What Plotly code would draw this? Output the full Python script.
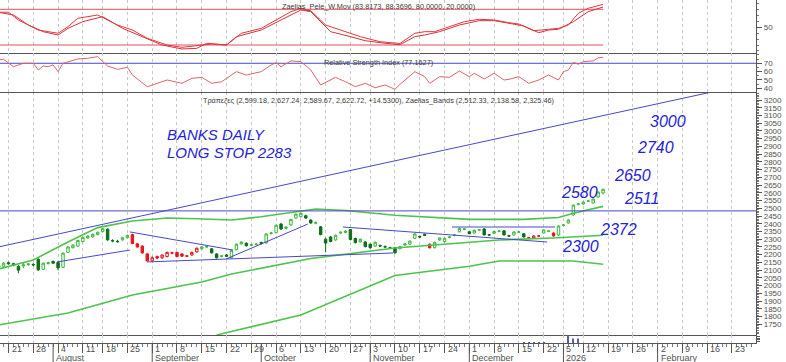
import pandas as pd
import plotly.graph_objects as go

# ---------------- calendar (trading days, Athens exchange) ----------------
HOLIDAYS = ["2025-08-15", "2025-10-28", "2025-12-24", "2025-12-25", "2025-12-26",
            "2025-12-31", "2026-01-01", "2026-01-02", "2026-01-06"]
DAYS = [d for d in pd.bdate_range("2025-07-17", "2026-03-06")
        if d.strftime("%Y-%m-%d") not in HOLIDAYS]
X_RANGE = [0.28, 152.86]
MONTH_NAMES = {8: "August", 9: "September", 10: "October", 11: "November",
               12: "December", 1: "2026", 2: "February", 3: "March"}

# ---------------- price data (Τράπεζες, daily) ----------------
OPEN = [2115, 2125, 2148, 2142, 2125, 2128, 2136, 2137, 2170, 2105,
        2143, 2156, 2150, 2118, 2215, 2245, 2255, 2285, 2308, 2315,
        2330, 2350, 2365, 2291, 2287, 2296, 2310, 2330, 2270, 2255,
        2205, 2160, 2188, 2180, 2188, 2210, 2215, 2205, 2190, 2198,
        2218, 2238, 2250, 2238, 2205, 2190, 2198, 2180, 2232, 2270,
        2274, 2261, 2266, 2279, 2276, 2338, 2342, 2398, 2370, 2392,
        2437, 2446, 2452, 2424, 2404, 2380, 2300, 2315, 2295, 2340,
        2343, 2362, 2305, 2283, 2282, 2268, 2256, 2258, 2252, 2244,
        2245, 2240, 2262, 2268, 2306, 2318, 2332, 2268, 2245, 2295,
        2285, 2312, 2325, 2348, 2365, 2348, 2340, 2358, 2366, 2328,
        2338, 2352, 2354, 2322, 2327, 2346, 2335, 2309, 2308, 2320,
        2340, 2352, 2340, 2327, 2390, 2405, 2457, 2526, 2528, 2546,
        2534, 2573, 2599.18]
HIGH = [2140, 2152, 2155, 2148, 2132, 2150, 2146, 2145, 2176, 2150,
        2155, 2162, 2156, 2215, 2255, 2268, 2296, 2316, 2325, 2336,
        2350, 2372, 2370, 2300, 2296, 2315, 2330, 2335, 2276, 2262,
        2210, 2190, 2195, 2202, 2220, 2220, 2220, 2210, 2198, 2220,
        2246, 2256, 2258, 2242, 2210, 2198, 2204, 2232, 2272, 2286,
        2280, 2270, 2274, 2284, 2338, 2348, 2395, 2405, 2384, 2432,
        2466, 2472, 2458, 2428, 2415, 2385, 2310, 2320, 2330, 2350,
        2358, 2366, 2310, 2305, 2288, 2272, 2285, 2266, 2260, 2252,
        2250, 2256, 2276, 2292, 2338, 2324, 2336, 2272, 2285, 2312,
        2310, 2320, 2332, 2375, 2372, 2352, 2362, 2366, 2372, 2334,
        2354, 2358, 2358, 2328, 2350, 2352, 2340, 2315, 2325, 2326,
        2364, 2358, 2344, 2390, 2398, 2428, 2525, 2534, 2544, 2552,
        2564, 2610, 2627.24]
LOW = [2108, 2118, 2135, 2125, 2080, 2112, 2128, 2126, 2095, 2100,
       2135, 2140, 2098, 2115, 2210, 2240, 2250, 2280, 2302, 2310,
       2325, 2345, 2290, 2280, 2278, 2290, 2305, 2268, 2245, 2205,
       2155, 2152, 2170, 2172, 2182, 2202, 2182, 2185, 2184, 2192,
       2212, 2232, 2244, 2208, 2175, 2182, 2184, 2175, 2228, 2265,
       2252, 2255, 2260, 2266, 2272, 2330, 2338, 2360, 2364, 2388,
       2432, 2440, 2432, 2400, 2396, 2325, 2215, 2280, 2290, 2334,
       2338, 2292, 2272, 2278, 2248, 2240, 2250, 2250, 2244, 2236,
       2206, 2234, 2258, 2262, 2302, 2308, 2320, 2240, 2240, 2290,
       2280, 2306, 2318, 2344, 2358, 2332, 2335, 2352, 2324, 2320,
       2334, 2346, 2324, 2314, 2322, 2340, 2310, 2300, 2302, 2314,
       2336, 2346, 2316, 2322, 2384, 2400, 2452, 2518, 2522, 2540,
       2530, 2568, 2589.67]
CLOSE = [2132, 2145, 2142, 2130, 2100, 2134, 2140, 2134, 2102, 2145,
         2148, 2145, 2115, 2210, 2250, 2262, 2292, 2312, 2320, 2332,
         2345, 2368, 2296, 2289, 2284, 2310, 2325, 2272, 2250, 2212,
         2160, 2180, 2178, 2198, 2215, 2212, 2188, 2190, 2192, 2215,
         2242, 2250, 2251, 2212, 2180, 2192, 2190, 2228, 2268, 2282,
         2258, 2263, 2268, 2272, 2334, 2340, 2390, 2366, 2378, 2428,
         2462, 2468, 2437, 2405, 2406, 2330, 2275, 2285, 2326, 2345,
         2352, 2298, 2278, 2300, 2252, 2245, 2280, 2256, 2250, 2243,
         2212, 2252, 2270, 2288, 2334, 2314, 2325, 2245, 2280, 2308,
         2306, 2314, 2327, 2370, 2366, 2336, 2358, 2361, 2328, 2327,
         2350, 2353, 2328, 2321, 2347, 2347, 2315, 2308, 2321, 2321,
         2360, 2353, 2321, 2385, 2392, 2424, 2521, 2528, 2540, 2547,
         2560, 2605, 2622.72]
# candle colour flag per day: g = green, r = red
CANDLE_FLAG = ("ggggggggggggggggggggggggggg"
               "rrrrrrrrrrrrrr"
               "gggggggggggggggggggggggggggggggggggggggggggggg"
               "r"
               "ggggggggggggggggggg"
               "rrr"
               "gg"
               "r"
               "gggggggggg")

# volume strip (day index, value)
VOL_X = [106, 107, 108, 109, 110, 115, 116, 117]
VOL = [0.8, 0.8, 0.8, 0.8, 0.8, 10, 6, 6]

# ---------------- Zaelias_Bands (day index, value) ----------------
BAND_UP_X = [0, 7, 14, 20, 27, 34, 40, 47, 53, 59, 64, 70, 80, 95, 106, 113, 116, 122]
BAND_UP = [2107, 2166, 2282, 2375, 2418, 2437, 2432, 2424, 2445, 2474, 2495, 2486,
           2455, 2428, 2428, 2440, 2468, 2512.33]
BAND_MID_X = [0, 14, 27, 41, 47, 63, 80, 95, 101, 112, 122]
BAND_MID = [1745, 1823, 1939, 2023, 2075, 2175, 2243, 2282, 2295, 2308, 2325.46]
BAND_LOW_X = [44, 61, 80, 95, 101, 116, 122]
BAND_LOW = [1681, 1810, 2065, 2125, 2159, 2159, 2138.58]

# ---------------- drawn trend lines (day index pairs, value pairs) ----------------
TREND_X = [[0.28, 143.98], [11.8, 26.5], [26.5, 47.3], [29.95, 79.6],
           [45.9, 62.4], [69.5, 110.7], [91.5, 112.3]]
TREND_Y = [[2252, 3252], [2153, 2230], [2347, 2230], [2153, 2211],
           [2172, 2398], [2379, 2282], [2379, 2379]]
RESIST_LEVEL = 2483

# ---------------- Zaelias_Pele_W.Mov ----------------
WM1_X = [0, 2, 4, 8, 12, 14, 16, 20, 24, 27, 30, 34, 37, 41, 43, 46, 49, 53, 56, 59,
         61, 63, 66, 69, 73, 77, 81, 84, 86, 88, 91, 94, 97, 100, 103, 105, 108, 110,
         113, 115, 117, 119, 122]
WM1 = [75, 75, 62, 45.2, 39.7, 50.8, 64.9, 70.4, 53.6, 45.2, 31.3, 20, 16.1, 20, 21.7,
       20, 39.7, 48, 62, 76, 81.7, 77.6, 53.6, 45.2, 34, 25.5, 22.5, 39.7, 42.4, 42.4,
       50.8, 59.2, 63.2, 62, 57.5, 55.3, 44, 45.2, 48, 53.6, 73.3, 81.7, 88.3696]
WM2_X = [0, 3, 6, 9, 12, 14, 17, 21, 25, 29, 33, 37, 40, 42, 46, 48, 53, 57, 61, 63,
         67, 71, 74, 78, 81, 84, 86, 89, 93, 97, 100, 103, 106, 109, 111, 113, 116,
         119, 122]
WM2 = [75, 70.4, 53.6, 42.4, 36.8, 48, 59.2, 67.6, 48, 34, 20, 13.3, 14.4, 22.9, 20,
       34, 45.2, 62, 78.8, 76, 42.4, 34, 27.2, 22.9, 20.5, 34, 36.8, 42.4, 53.6, 60.9,
       60.9, 56.5, 51.9, 40.7, 45.2, 46.4, 59.2, 76, 83.8173]
WM_LEVELS = [80, 20]

# ---------------- RSI ----------------
RSI_X = [0, 1, 3, 5, 7, 8, 9, 10, 11, 12, 13, 14, 16, 18, 20, 22, 24, 26, 27, 30,
         34, 37, 39, 41, 43, 45, 48, 50, 53, 55, 56, 57, 59, 61, 63, 65, 68, 70, 72, 74,
         76, 78, 80, 81, 84, 86, 87, 89, 91, 93, 95, 96, 98, 100, 102, 103, 105, 107,
         109, 111, 113, 114, 115, 116, 117, 118, 120, 121, 122]
RSI = [74, 74.8, 65.9, 70, 70, 62, 66.7, 65.9, 68, 59.9, 70, 72, 75.2, 76, 78, 66.7,
       62.7, 65.2, 55.9, 41.8, 49.9, 45.9, 51.9, 53.1, 45.9, 47.8, 59.9, 55.9, 59.9, 68,
       70.8, 65.9, 72.8, 72, 62, 43.9, 53.1, 47.8, 41.8, 45.9, 40.6, 43.9, 38.7, 44.6,
       59.9, 53.9, 45.9, 53.9, 53.1, 60.7, 53.9, 58, 51.1, 58, 49.9, 50.7, 53.9, 45.9,
       49.9, 55.9, 49.9, 59.9, 62, 71.2, 68.8, 72, 72.8, 76.5, 77.1627]
RSI_LEVEL = 70

# ---------------- hand-written notes (day index, value, text) ----------------
NOTE_X = [33.6, 33.6, 131.1, 128.4, 123.8, 113.1, 125.8, 121.0, 113.3]
NOTE_Y = [2977, 2861, 3058, 2893, 2709, 2602, 2560, 2366, 2256]
NOTE_TEXT = ["BANKS DAILY", "LONG STOP 2283", "3000", "2740", "2650", "2580",
             "2511", "2372", "2300"]
NOTE_SIZE = [15, 15, 16, 16, 16, 16, 16, 16, 16]

TITLE_TOP = "Zaelias_Pele_W.Mov (83.8173, 88.3696, 80.0000, 20.0000)"
TITLE_RSI = "Relative Strength Index (77.1627)"
TITLE_MAIN = ("Τράπεζες (2,599.18, 2,627.24, 2,589.67, 2,622.72, +14.5300), "
              "Zaelias_Bands (2,512.33, 2,138.58, 2,325.46)")

# ---------------- styles ----------------
FRAME = "#555555"
GRID = "#c8c8c8"
TXT = "#3a3a3a"
FONT = "Liberation Sans, Arial, sans-serif"
G_LIGHT = "#3cb83c"
G_DARK = "#0c6e18"
RED = "#e41818"
BLUE_LINE = "#4848c8"
BAND = "#4cc44c"
PELE = "#e23a3a"
NOTE_BLUE = "#2424d6"

W, H = 786, 362
ML, MR, MT, MB = 0, 30, 0, 19
PH = H - MT - MB  # plot height in px


def py(px):
    """convert a pixel row (from top of figure) to paper y"""
    return (H - MB - px) / PH


n = min(len(OPEN), len(HIGH), len(LOW), len(CLOSE), len(CANDLE_FLAG))
idx = list(range(n))

fig = go.Figure()

# ---- top panel: Zaelias_Pele_W.Mov
for lev in WM_LEVELS:
    fig.add_trace(go.Scatter(x=[0, n - 1], y=[lev, lev], mode="lines", xaxis="x2", yaxis="y2",
                             line=dict(color="#e0505a", width=1), hoverinfo="skip"))
fig.add_trace(go.Scatter(x=WM2_X, y=WM2, mode="lines", xaxis="x2", yaxis="y2",
                         line=dict(color="#d83040", width=1)))
fig.add_trace(go.Scatter(x=WM1_X, y=WM1, mode="lines", xaxis="x2", yaxis="y2",
                         line=dict(color=PELE, width=1)))

# ---- RSI panel
fig.add_trace(go.Scatter(x=X_RANGE, y=[RSI_LEVEL, RSI_LEVEL], mode="lines", xaxis="x3",
                         yaxis="y3", line=dict(color=BLUE_LINE, width=1)))
fig.add_trace(go.Scatter(x=RSI_X, y=RSI, mode="lines", xaxis="x3", yaxis="y3",
                         line=dict(color="#e06464", width=1)))

# ---- main panel: bands
for bx, by in [(BAND_UP_X, BAND_UP), (BAND_MID_X, BAND_MID), (BAND_LOW_X, BAND_LOW)]:
    fig.add_trace(go.Scatter(x=bx, y=by, mode="lines", xaxis="x", yaxis="y",
                             line=dict(color=BAND, width=1.6)))
# trend lines
fig.add_trace(go.Scatter(x=X_RANGE, y=[RESIST_LEVEL, RESIST_LEVEL], mode="lines",
                         xaxis="x", yaxis="y", line=dict(color=BLUE_LINE, width=1)))
for tx, ty in zip(TREND_X, TREND_Y):
    fig.add_trace(go.Scatter(x=tx, y=ty, mode="lines", xaxis="x", yaxis="y",
                             line=dict(color=BLUE_LINE, width=1)))

# candles
for flag, up_line, up_fill, dn_line, dn_fill in [("g", G_LIGHT, "white", G_DARK, G_DARK),
                                                  ("r", RED, "white", RED, RED)]:
    sel = [i for i in idx if CANDLE_FLAG[i] == flag]
    fig.add_trace(go.Candlestick(
        x=sel, open=[OPEN[i] for i in sel], high=[HIGH[i] for i in sel],
        low=[LOW[i] for i in sel], close=[CLOSE[i] for i in sel],
        xaxis="x", yaxis="y", whiskerwidth=0,
        increasing=dict(line=dict(color=up_line, width=1), fillcolor=up_fill),
        decreasing=dict(line=dict(color=dn_line, width=1), fillcolor=dn_fill),
        hoverinfo="skip"))

# volume strip
fig.add_trace(go.Bar(x=VOL_X, y=VOL, xaxis="x4", yaxis="y4", width=0.25,
                     marker=dict(color="#5a5ab0", line=dict(width=0))))

# ---------------- axes ----------------
mondays = []
for i, d in enumerate(DAYS):
    if d.weekday() == 0 and X_RANGE[0] <= i <= X_RANGE[1]:
        if mondays and i - mondays[-1][0] < 3:
            continue
        mondays.append((i, d))
tick_vals = [i for i, _ in mondays]

month_starts = []
for i, d in enumerate(DAYS):
    if i == 0 or not (X_RANGE[0] <= i <= X_RANGE[1]):
        continue
    if d.month != DAYS[i - 1].month:
        month_starts.append((i, d))

day_vals = [i for i in range(len(DAYS)) if X_RANGE[0] <= i <= X_RANGE[1]]

dom_top = [py(53.3), 1.0]
dom_rsi = [py(92.3), py(53.3)]
dom_main = [py(335), py(92.3)]
dom_vol = [0.0, py(335)]

xbase = dict(range=X_RANGE, tickmode="array", tickvals=tick_vals, showticklabels=False,
             showgrid=True, gridcolor=GRID, griddash="dot", gridwidth=1, zeroline=False,
             showline=True, linecolor=FRAME, linewidth=1.2, ticks="", fixedrange=True)
ybase = dict(side="right", showgrid=False, zeroline=False, showline=True, linecolor=FRAME,
             linewidth=1.2, ticks="outside", tickcolor=FRAME, ticklen=5, tickwidth=1,
             tickfont=dict(family=FONT, size=8, color="#505050"), fixedrange=True)

main_ticks = list(range(1750, 3201, 50))
fig.update_layout(
    width=W, height=H, margin=dict(l=ML, r=MR, t=MT, b=MB),
    paper_bgcolor="white", plot_bgcolor="white", showlegend=False,
    barmode="overlay",
    xaxis=dict(xbase, anchor="y", rangeslider=dict(visible=False)),
    xaxis2=dict(xbase, anchor="y2", matches="x"),
    xaxis3=dict(xbase, anchor="y3", matches="x"),
    xaxis4=dict(xbase, anchor="y4", matches="x", ticks="outside", ticklen=9,
                tickcolor=FRAME,
                minor=dict(tickmode="array", tickvals=day_vals, ticks="outside",
                           ticklen=3, tickcolor="#777777", showgrid=False)),
    yaxis=dict(ybase, domain=dom_main, anchor="x", range=[1680.7, 3249.8],
               tickmode="array", tickvals=main_ticks, ticktext=[str(v) for v in main_ticks],
               minor=dict(tickmode="array", tickvals=list(range(1690, 3250, 10)),
                          ticks="outside", ticklen=2, tickcolor="#777777")),
    yaxis2=dict(ybase, domain=dom_top, anchor="x2", range=[6.05, 95.6],
                tickmode="array", tickvals=[50], ticktext=["50"],
                minor=dict(tickmode="array", tickvals=list(range(10, 96, 10)),
                           ticks="outside", ticklen=2, tickcolor="#777777")),
    yaxis3=dict(ybase, domain=dom_rsi, anchor="x3", range=[35.1, 82.0],
                tickmode="array", tickvals=[40, 50, 60, 70], ticktext=["40", "50", "60", "70"],
                minor=dict(tickmode="array", tickvals=list(range(40, 82, 5)),
                           ticks="outside", ticklen=2, tickcolor="#777777")),
    yaxis4=dict(ybase, domain=dom_vol, anchor="x4", range=[0, 10.5],
                tickmode="array", tickvals=[2, 4, 6, 8], showticklabels=False, ticklen=3),
)

annotations = []
# day labels
for i, d in mondays:
    annotations.append(dict(x=i, xref="x4", y=py(348.5), yref="paper", text=str(d.day),
                            showarrow=False, xanchor="left", yanchor="middle", xshift=1,
                            font=dict(family=FONT, size=9, color="#505050")))
# month labels + separators
shapes = []
for i, d in month_starts:
    annotations.append(dict(x=i, xref="x4", y=py(357.5), yref="paper",
                            text=MONTH_NAMES.get(d.month, d.strftime("%B")),
                            showarrow=False, xanchor="left", yanchor="middle", xshift=1,
                            font=dict(family=FONT, size=9, color="#505050")))
    shapes.append(dict(type="line", xref="x4", yref="paper", x0=i, x1=i,
                       y0=py(H), y1=0, line=dict(color=FRAME, width=1)))
# panel titles
for txt, ypx in [(TITLE_TOP, 6), (TITLE_RSI, 62), (TITLE_MAIN, 100.5)]:
    annotations.append(dict(x=0.5, xref="paper", y=py(ypx), yref="paper", text=txt,
                            showarrow=False, xanchor="center", yanchor="middle",
                            font=dict(family=FONT, size=7.3, color=TXT)))
# hand-written notes
for nx, ny, nt, ns in zip(NOTE_X, NOTE_Y, NOTE_TEXT, NOTE_SIZE):
    annotations.append(dict(x=nx, xref="x", y=ny, yref="y", text=nt, showarrow=False,
                            xanchor="left", yanchor="middle",
                            font=dict(family=FONT, size=ns, color=NOTE_BLUE, style="italic")))

fig.update_layout(annotations=annotations, shapes=shapes)
fig.write_html("out.html", config={"displayModeBar": False},
               post_script="document.body.style.margin='0';document.body.style.overflow='hidden';")
